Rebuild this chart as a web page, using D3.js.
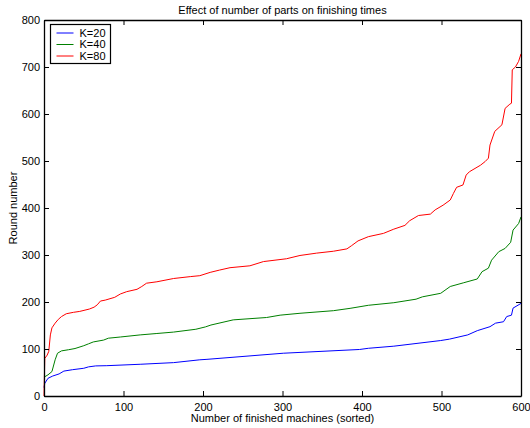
<!DOCTYPE html>
<html>
<head>
<meta charset="utf-8">
<script src="https://cdn.jsdelivr.net/npm/d3@7/dist/d3.min.js"></script>
<style>
  html, body { margin: 0; padding: 0; background: #fff; }
  svg { display: block; font-family: "Liberation Sans", Arial, Helvetica, sans-serif; }
  .axis text { font-size: 11px; fill: #000; }
  .axis path, .axis line { stroke: #000; }
</style>
</head>
<body>
<svg id="chart" width="530" height="428"></svg>
<script>
// Finishing round of each machine, sorted, for three part counts K.
const ranksK20  = [0, 1, 5, 11, 19, 25, 36, 50, 56, 65, 79, 121, 163, 196, 205, 301, 397, 408, 440, 499, 510, 533, 545, 561, 568, 578, 582, 588, 590, 600];
const roundsK20 = [18, 27, 37.6, 42.5, 47, 53, 56, 59, 62, 64, 64.5, 67.5, 71, 77, 78, 91, 99, 101.5, 106, 118, 121, 130, 139, 147.5, 155, 158, 169, 172, 187, 197];

const ranksK40  = [0, 5, 10, 14, 17, 22, 31, 39, 50, 56, 62, 75, 81, 96, 121, 142, 163, 191, 203, 210, 238, 280, 297, 322, 364, 385, 408, 440, 468, 476, 499, 511, 528, 545, 551, 559, 563, 572, 580, 587, 590, 597, 600];
const roundsK40 = [40, 45, 52, 77, 91, 96, 98.5, 101, 107, 111, 115, 119, 123, 125.5, 130, 133, 136, 142, 147, 151, 162, 167, 172, 176, 181.5, 186.5, 193, 198.5, 206, 211, 218.5, 233, 241, 249, 264.5, 272, 289, 307, 314, 327, 353, 367, 381];

const ranksK80  = [0, 1, 4, 6, 8, 10, 14, 18, 22, 28, 37, 45, 57, 63, 67, 71, 77, 89, 96, 104, 117, 123, 129, 142, 163, 184, 196, 209, 221, 234, 259, 276, 305, 322, 343, 364, 381, 387, 395, 408, 427, 440, 454, 460, 471, 486, 492, 502, 511, 515, 519, 527, 531, 535, 549, 555, 559, 561, 567, 576, 580, 586, 588, 589, 593, 597, 600];
const roundsK80 = [0, 80, 87, 95, 130, 145, 155, 163, 169, 175, 178, 180, 185, 189, 194, 202, 204, 210, 217, 222, 227, 233, 240, 243, 250, 254, 256, 263, 268, 273, 277, 286, 292, 299, 304, 308, 313, 320, 330, 339, 346, 355, 363, 373, 384, 387, 396, 406, 417, 431, 444, 449, 470, 477, 491, 499, 506, 534, 563, 577, 612, 621, 623, 694, 700, 712, 728];

const seriesNames  = ["K=20", "K=40", "K=80"];
const seriesColors = ["#0000ff", "#008000", "#ff0000"];
const xTicks = [0, 100, 200, 300, 400, 500, 600];
const yTicks = [0, 100, 200, 300, 400, 500, 600, 700, 800];

const titleText  = "Effect of number of parts on finishing times";
const xLabelText = "Number of finished machines (sorted)";
const yLabelText = "Round number";

const series = [
  { name: seriesNames[0], color: seriesColors[0], ranks: ranksK20, rounds: roundsK20 },
  { name: seriesNames[1], color: seriesColors[1], ranks: ranksK40, rounds: roundsK40 },
  { name: seriesNames[2], color: seriesColors[2], ranks: ranksK80, rounds: roundsK80 }
];

const W = 530, H = 428;
const margin = { top: 20, right: 9, bottom: 32, left: 44 };
const iw = W - margin.left - margin.right;
const ih = H - margin.top - margin.bottom;

const svg = d3.select("#chart");
const g = svg.append("g").attr("transform", `translate(${margin.left},${margin.top})`);

const x = d3.scaleLinear().domain([0, 600]).range([0, iw]);
const y = d3.scaleLinear().domain([0, 800]).range([ih, 0]);

// curves
const line = d3.line().x(d => x(d[0])).y(d => y(d[1]));
series.forEach(s => {
  const pts = s.ranks.map((r, i) => [r, s.rounds[i]]);
  g.append("path")
    .datum(pts)
    .attr("fill", "none")
    .attr("stroke", s.color)
    .attr("stroke-width", 1)
    .attr("d", line);
});

// axes with inward ticks on all four sides
g.append("g").attr("class", "axis")
  .attr("transform", `translate(0,${ih})`)
  .call(d3.axisBottom(x).tickValues(xTicks).tickSize(-5).tickSizeOuter(0).tickPadding(7));
g.append("g").attr("class", "axis")
  .call(d3.axisTop(x).tickValues(xTicks).tickSize(-5).tickSizeOuter(0).tickFormat(""));
g.append("g").attr("class", "axis")
  .call(d3.axisLeft(y).tickValues(yTicks).tickSize(-5).tickSizeOuter(0).tickPadding(4));
g.append("g").attr("class", "axis")
  .attr("transform", `translate(${iw},0)`)
  .call(d3.axisRight(y).tickValues(yTicks).tickSize(-5).tickSizeOuter(0).tickFormat(""));

g.selectAll(".axis path").attr("stroke-width", 1.3);

// titles
svg.append("text")
  .attr("x", margin.left + iw / 2).attr("y", 14)
  .attr("text-anchor", "middle").attr("font-size", 11)
  .text(titleText);
svg.append("text")
  .attr("x", margin.left + iw / 2).attr("y", 422)
  .attr("text-anchor", "middle").attr("font-size", 11)
  .text(xLabelText);
svg.append("text")
  .attr("transform", `translate(17,${margin.top + ih / 2}) rotate(-90)`)
  .attr("text-anchor", "middle").attr("font-size", 11)
  .text(yLabelText);

// legend
const lg = svg.append("g").attr("transform", "translate(50.5,24.5)");
lg.append("rect").attr("width", 60).attr("height", 39)
  .attr("fill", "#fff").attr("stroke", "#000").attr("stroke-width", 1.2);
series.forEach((s, i) => {
  const yy = 8.5 + i * 11.5;
  lg.append("line").attr("x1", 6).attr("x2", 23).attr("y1", yy).attr("y2", yy)
    .attr("stroke", s.color).attr("stroke-width", 1);
  lg.append("text").attr("x", 29).attr("y", yy).attr("dy", "0.35em")
    .attr("font-size", 11).text(s.name);
});
</script>
</body>
</html>
